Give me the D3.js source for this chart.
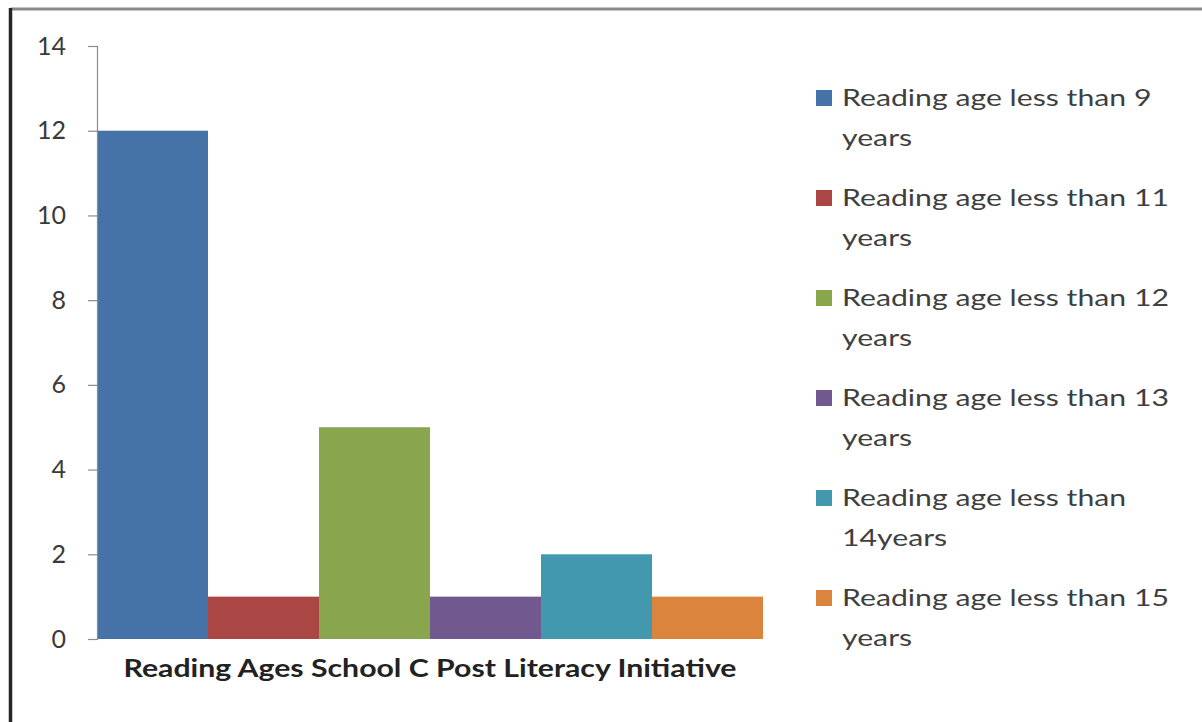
<!DOCTYPE html>
<html>
<head>
<meta charset="utf-8">
<script src="https://cdn.jsdelivr.net/npm/d3@7"></script>
<style>
  html, body { margin: 0; padding: 0; background: #fff; }
  svg { display: block; }
</style>
</head>
<body>
<svg id="chart" width="1202" height="722"></svg>
<script>
// Reading ages recorded after the literacy initiative at School C
const category = "Reading Ages School C Post Literacy Initiative";
const seriesNames = [
  "Reading age less than 9 years",
  "Reading age less than 11 years",
  "Reading age less than 12 years",
  "Reading age less than 13 years",
  "Reading age less than 14years",
  "Reading age less than 15 years"
];
const seriesValues = [12, 1, 5, 1, 2, 1];
const seriesColors = ["#4572A7", "#AA4643", "#89A54E", "#71588F", "#4198AF", "#DB843D"];
const yTicks = [0, 2, 4, 6, 8, 10, 12, 14];

const svg = d3.select("#chart");
const W = 1202, H = 722;
const font = "Lato, 'Open Sans', sans-serif";
const stretch = 1.26; // wide set of the chart's text

// chart frame (runs off the right and bottom edges)
svg.append("line").attr("x1", 10.5).attr("x2", W + 5).attr("y1", 9).attr("y2", 9)
  .attr("stroke", "#8a8a8a").attr("stroke-width", 3);
svg.append("line").attr("x1", 10.5).attr("x2", 10.5).attr("y1", 8).attr("y2", H + 5)
  .attr("stroke", "#262626").attr("stroke-width", 3.5);

const plot = { left: 97, right: 763, top: 46, bottom: 639 };

const y = d3.scaleLinear().domain([0, 14]).range([plot.bottom, plot.top]);
const x = d3.scaleBand().domain(seriesNames).range([plot.left, plot.right]).padding(0);

// bars
svg.append("g").selectAll("rect")
  .data(seriesNames)
  .join("rect")
  .attr("x", d => x(d))
  .attr("width", x.bandwidth())
  .attr("y", (d, i) => y(seriesValues[i]))
  .attr("height", (d, i) => y(0) - y(seriesValues[i]))
  .attr("fill", (d, i) => seriesColors[i]);

// value axis
const yAxis = svg.append("g")
  .attr("transform", `translate(${plot.left},0)`)
  .call(d3.axisLeft(y).tickValues(yTicks).tickSize(9).tickPadding(22).tickFormat(d3.format("d")));
yAxis.select(".domain").attr("stroke", "#8c8c8c").attr("stroke-width", 1.2);
yAxis.selectAll(".tick line").attr("stroke", "#8c8c8c").attr("stroke-width", 1.2);
yAxis.selectAll(".tick text")
  .attr("fill", "#3a3a3a")
  .style("font-family", font)
  .style("font-size", "25px");

// category label
svg.append("text")
  .attr("transform", `translate(${(plot.left + plot.right) / 2},677) scale(${stretch},1)`)
  .attr("text-anchor", "middle")
  .style("font-family", font)
  .style("font-size", "24px")
  .style("font-weight", "bold")
  .attr("fill", "#222")
  .text(category);

// legend
const legend = svg.append("g");
const legendX = 816, legendY0 = 98, legendStep = 100, maxW = 345 / stretch;
seriesNames.forEach((name, i) => {
  const cy = legendY0 + i * legendStep;
  legend.append("rect")
    .attr("x", legendX).attr("y", cy - 8)
    .attr("width", 16).attr("height", 16)
    .attr("fill", seriesColors[i]);
  const t = legend.append("text")
    .attr("transform", `translate(${legendX + 26},${cy + 8}) scale(${stretch},1)`)
    .style("font-family", font)
    .style("font-size", "24px")
    .attr("fill", "#3f3f3f");
  // word wrap within the legend column
  const words = name.split(" ");
  let line = [];
  let tspan = t.append("tspan").attr("x", 0).attr("dy", 0);
  words.forEach(w => {
    line.push(w);
    tspan.text(line.join(" "));
    if (tspan.node().getComputedTextLength() > maxW && line.length > 1) {
      line.pop();
      tspan.text(line.join(" "));
      line = [w];
      tspan = t.append("tspan").attr("x", 0).attr("dy", 40).text(w);
    }
  });
});
</script>
</body>
</html>
